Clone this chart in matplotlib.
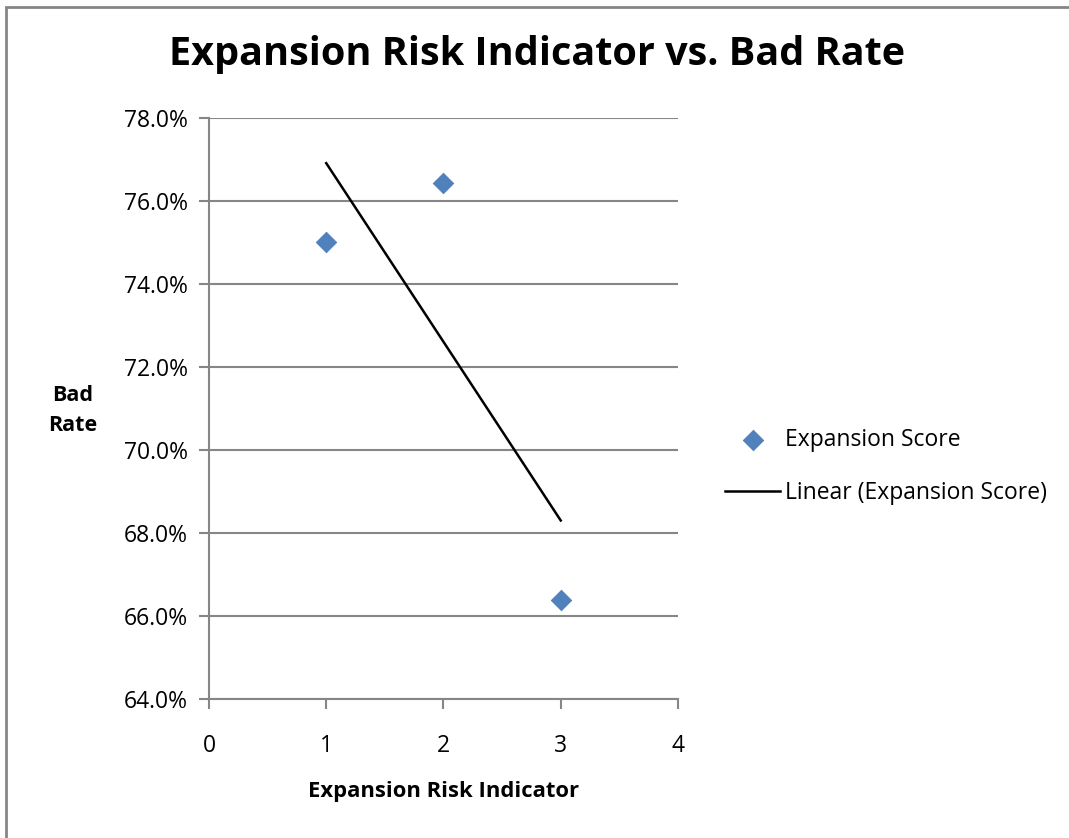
import numpy as np
import matplotlib.pyplot as plt
from matplotlib.patches import Rectangle
from matplotlib.ticker import FuncFormatter

plt.rcParams['font.family'] = ['Open Sans', 'DejaVu Sans']

risk_indicator = [1, 2, 3]
bad_rate = [75.0, 76.43, 66.39]
y_ticks = [64, 66, 68, 70, 72, 74, 76, 78]
x_ticks = [0, 1, 2, 3, 4]

grey = '#868686'

fig = plt.figure(figsize=(10.69, 8.38), dpi=100)
ax = fig.add_axes([0.1955, 0.1659, 0.4387, 0.6933])

# outer chart frame
fig.patches.append(Rectangle((6 / 1069, -0.1), 1.2, 1 - 7 / 838 + 0.1,
                             transform=fig.transFigure, fill=False,
                             edgecolor=grey, linewidth=2))

ax.scatter(risk_indicator, bad_rate, marker='D', s=110, color='#4f81bd',
           edgecolor='#4a7ab5', linewidth=0.5, zorder=3, label='Expansion Score')

# least squares trend line over the data range
slope, intercept = np.polyfit(risk_indicator, bad_rate, 1)
fit_x = np.array([risk_indicator[0], risk_indicator[-1]])
ax.plot(fit_x, slope * fit_x + intercept, color='black', linewidth=1.8,
        zorder=2, label='Linear (Expansion Score)')

ax.set_xlim(0, 4)
ax.set_ylim(64, 78)
ax.set_xticks(x_ticks)
ax.set_yticks(y_ticks)
ax.yaxis.set_major_formatter(FuncFormatter(lambda v, p: f'{v:.1f}%'))
ax.grid(axis='y', color=grey, linewidth=1.5)
ax.set_axisbelow(True)

for side in ['top', 'right']:
    ax.spines[side].set_visible(False)
for side in ['left', 'bottom']:
    ax.spines[side].set_color(grey)
    ax.spines[side].set_linewidth(1.5)
ax.tick_params(colors=grey, labelcolor='black', labelsize=16.5, width=1.5,
               length=7, direction='out')
ax.tick_params(axis='x', pad=18)
ax.tick_params(axis='y', pad=8)

fig.text(0.502, 0.935, 'Expansion Risk Indicator vs. Bad Rate', ha='center',
         va='center', fontsize=28.5, fontweight='bold')
ax.set_xlabel('Expansion Risk Indicator', fontsize=15.8, fontweight='bold',
              labelpad=17)
fig.text(0.068, 0.510, 'Bad\nRate', ha='center', va='center', fontsize=15.5,
         fontweight='bold', linespacing=1.55)

fig.legend(loc='center left', bbox_to_anchor=(0.659, 0.443), frameon=False,
           fontsize=16.5, handlelength=2.4, handletextpad=0.2, labelspacing=1.25)

fig.savefig('out.png', dpi=100)
